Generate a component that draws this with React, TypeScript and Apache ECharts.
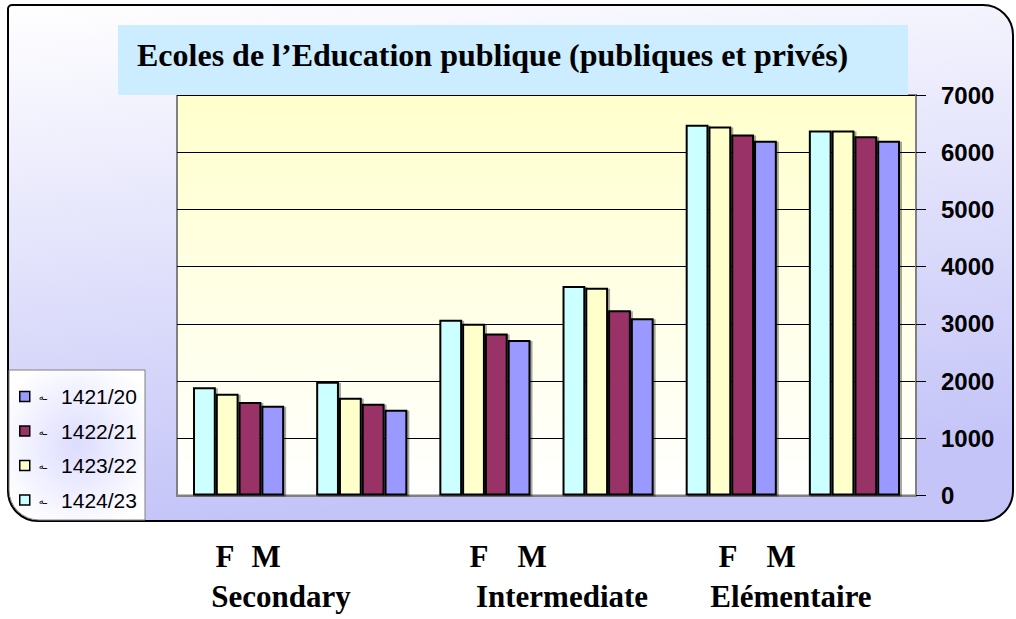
import React, { useEffect, useRef } from "react";
import * as echarts from "echarts";

const categories = ["Secondary F", "Secondary M", "Intermediate F", "Intermediate M", "Elémentaire F", "Elémentaire M"];
const seriesNames = ["1424/23", "1423/22", "1422/21", "1421/20"];
const v1424_23 = [1890, 1990, 3070, 3660, 6480, 6380];
const v1423_22 = [1780, 1710, 3000, 3630, 6450, 6380];
const v1422_21 = [1635, 1605, 2830, 3240, 6310, 6280];
const v1421_20 = [1570, 1500, 2720, 3100, 6200, 6200];
const seriesValues = [v1424_23, v1423_22, v1422_21, v1421_20];
const seriesColors = ["#ccffff", "#ffffcc", "#993366", "#9999ff"];
const legendOrder = ["1421/20", "1422/21", "1423/22", "1424/23"];
const yTicks = { min: 0, max: 7000, interval: 1000 };
const title = "Ecoles de l\u2019Education publique (publiques et privés)";
const groupLabels = ["Secondary", "Intermediate", "Elémentaire"];

export default function App() {
  const ref = useRef<HTMLDivElement>(null);
  useEffect(() => {
    if (!ref.current) return;
    const chart = echarts.init(ref.current, null, { renderer: "svg" });
    const serif = "'Liberation Serif', 'Times New Roman', serif";
    const sans = "'Liberation Sans', Arial, sans-serif";
    const option: any = {
      animation: false,
      backgroundColor: "#ffffff",
      grid: {
        left: 177,
        right: 100,
        top: 95,
        bottom: 123.5,
        show: true,
        borderColor: "#808080",
        borderWidth: 2,
        backgroundColor: new echarts.graphic.LinearGradient(0, 0, 0, 1, [
          { offset: 0, color: "#ffffcc" },
          { offset: 1, color: "#ffffff" },
        ]),
      },
      xAxis: {
        type: "category",
        data: categories,
        axisLine: { show: true, lineStyle: { color: "#808080", width: 2 } },
        axisTick: { show: false },
        axisLabel: { show: false },
      },
      yAxis: {
        type: "value",
        position: "right",
        min: yTicks.min,
        max: yTicks.max,
        interval: yTicks.interval,
        axisLine: { show: true, lineStyle: { color: "#808080", width: 2 } },
        axisTick: { show: true, inside: false, length: 10, lineStyle: { color: "#000", width: 1 } },
        axisLabel: {
          margin: 25,
          color: "#000",
          fontFamily: sans,
          fontWeight: "bold",
          fontSize: 24,
          formatter: (v: number) => String(v),
        },
        splitLine: { show: true, lineStyle: { color: "#000", width: 1 } },
      },
      legend: {
        data: legendOrder,
        orient: "vertical",
        left: 14,
        top: 381,
        itemWidth: 10,
        itemHeight: 10,
        itemGap: 13.5,
        icon: "rect",
        itemStyle: { borderColor: "#000", borderWidth: 1.5 },
        formatter: (n: string) => `{h|ـه}{n|${n}}`,
        textStyle: {
          rich: {
            h: { fontSize: 10, color: "#000", fontFamily: "'DejaVu Sans', sans-serif", lineHeight: 24, padding: [0, 0, 0, 4] },
            n: { fontSize: 21, color: "#000", fontFamily: sans, lineHeight: 24, padding: [0, 0, 0, 14] },
          },
        },
      },
      series: seriesNames.map((name, i) => ({
        name,
        type: "bar",
        data: seriesValues[i],
        barGap: "0%",
        barCategoryGap: "26%",
        itemStyle: {
          color: seriesColors[i],
          borderColor: "#000",
          borderWidth: 2,
          shadowColor: "rgba(0,0,0,0.35)",
          shadowOffsetX: 2,
          shadowOffsetY: 1,
          shadowBlur: 1,
        },
      })),
      graphic: [
        {
          type: "rect",
          z: -10,
          shape: { x: 8, y: 5, width: 1005, height: 516, r: [4, 30, 30, 30] },
          style: {
            fill: new echarts.graphic.LinearGradient(0, 0, 0.2, 1, [
              { offset: 0, color: "#ffffff" },
              { offset: 1, color: "#c4c4f8" },
            ]),
            stroke: "#000",
            lineWidth: 2,
          },
        },
        {
          type: "rect",
          z: 1,
          shape: { x: 9, y: 370, width: 136, height: 150, r: [0, 0, 0, 30] },
          style: {
            fill: new echarts.graphic.RadialGradient(0.5, 0.5, 0.6, [
              { offset: 0, color: "#dcdcff" },
              { offset: 1, color: "#ffffff" },
            ]),
            stroke: "#808080",
            lineWidth: 1,
          },
        },
        {
          type: "rect",
          z: 10,
          shape: { x: 118, y: 25, width: 790, height: 70 },
          style: { fill: "#ccecff" },
        },
        {
          type: "text",
          z: 11,
          x: 137,
          y: 55,
          style: {
            text: title,
            fill: "#000",
            font: `bold 32px ${serif}`,
            textVerticalAlign: "middle",
          },
        },
        ...[
          [225, "F"], [266, "M"], [479, "F"], [532, "M"], [728, "F"], [781, "M"],
        ].map(([x, t]) => ({
          type: "text",
          x: x as number,
          y: 556,
          style: { text: t as string, fill: "#000", font: `bold 31px ${serif}`, textAlign: "center", textVerticalAlign: "middle" },
        })),
        ...groupLabels.map((t, i) => ({
          type: "text",
          x: [281, 562, 791][i],
          y: 596,
          style: { text: t, fill: "#000", font: `bold 31px ${serif}`, textAlign: "center", textVerticalAlign: "middle" },
        })),
      ],
    };
    chart.setOption(option);
    return () => chart.dispose();
  }, []);
  return <div ref={ref} style={{ position: "absolute", left: 0, top: 0, width: 1016, height: 619 }} />;
}
